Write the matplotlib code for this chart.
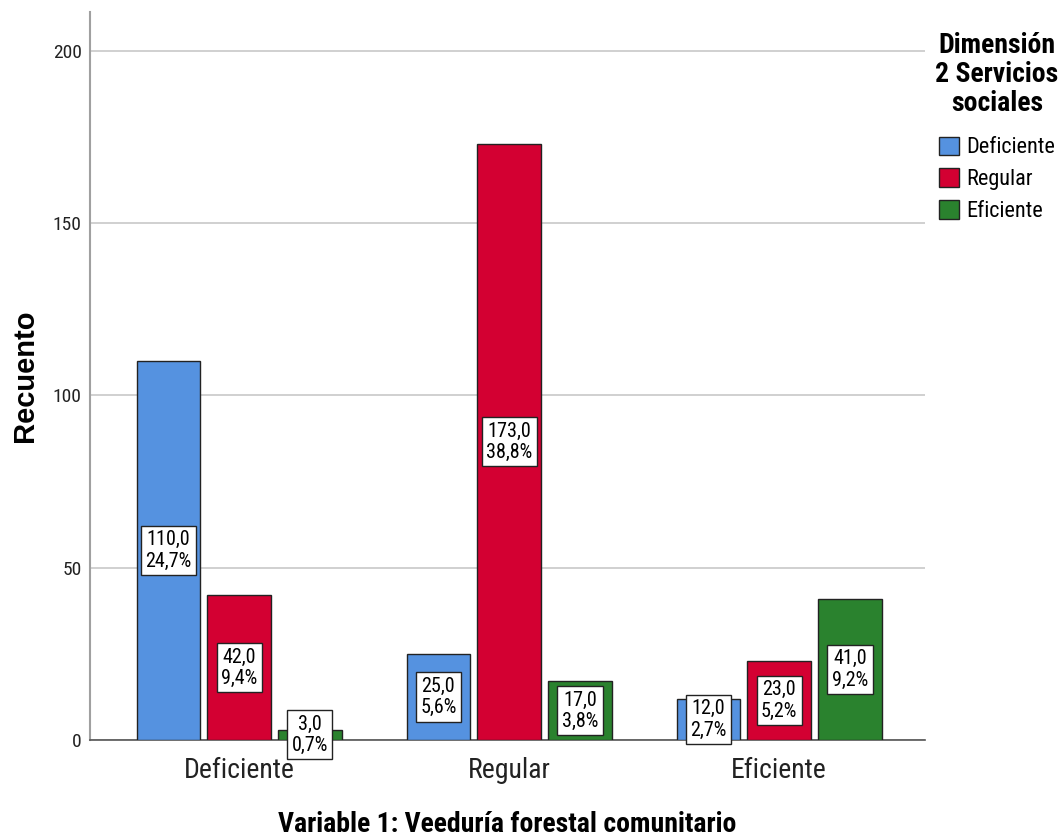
import numpy as np
import matplotlib.pyplot as plt
from matplotlib import font_manager

# buscar una fuente estrecha (parecida a Arial Narrow)
lista = font_manager.fontManager.ttflist
names = set(f.name for f in lista)
fam = None
stretch = 'normal'
for c in ['Liberation Sans Narrow', 'Arial Narrow', 'Roboto Condensed', 'Open Sans Condensed']:
    if c in names:
        fam = c
        break
if fam is None:
    for c in ['Roboto', 'Noto Sans', 'Open Sans', 'Liberation Sans', 'DejaVu Sans', 'Inter', 'Lato']:
        cond = [f for f in lista if f.name == c and str(f.stretch) in
                ('condensed', 'semi-condensed', 'extra-condensed', '300', '400', '200')]
        if cond:
            fam = c
            stretch = 'condensed'
            break
k = 1.0
if fam is None:
    fam = 'Liberation Sans'
    k = 0.86
plt.rcParams['font.family'] = [fam, 'DejaVu Sans']
plt.rcParams['font.stretch'] = stretch

categorias = ['Deficiente', 'Regular', 'Eficiente']
series = ['Deficiente', 'Regular', 'Eficiente']
deficiente = [110, 25, 12]
regular = [42, 173, 23]
eficiente = [3, 17, 41]
colores = ['#5592E0', '#D30032', '#2A822E']

valores = [deficiente, regular, eficiente]
total = float(np.sum(valores))

fig = plt.figure(figsize=(10.64, 8.4), dpi=100)
ax = fig.add_axes([0.0846, 0.119, 0.7848, 0.867])

x = np.arange(len(categorias))
ancho = 0.235
paso = 0.262

for i in range(len(series)):
    pos = x + (i - 1) * paso
    ax.bar(pos, valores[i], ancho, color=colores[i], edgecolor='#222222',
           linewidth=1.0, label=series[i], zorder=3)
    for p, v in zip(pos, valores[i]):
        txt = ('%.1f' % v).replace('.', ',') + '\n' + ('%.1f%%' % (v / total * 100)).replace('.', ',')
        ax.text(p, v / 2.0, txt, ha='center', va='center', fontsize=14.5 * k,
                linespacing=1.15, zorder=5,
                bbox=dict(boxstyle='square,pad=0.22', facecolor='white',
                          edgecolor='#222222', linewidth=1.0))

ax.set_xlim(-0.552, 2.54)
ax.set_ylim(0, 211.3)
ax.set_yticks([0, 50, 100, 150, 200])
ax.set_xticks(x)
ax.set_xticklabels(categorias, fontsize=20 * k)
ax.tick_params(axis='y', labelsize=14 * k, length=0, pad=6, labelcolor='#222222')
ax.tick_params(axis='x', length=0, pad=12, labelcolor='#222222')
ax.yaxis.grid(True, color='#C8C8C8', linewidth=1.2, zorder=0)
ax.set_axisbelow(True)

for s in ['top', 'right']:
    ax.spines[s].set_visible(False)
ax.spines['left'].set_color('#A0A0A0')
ax.spines['left'].set_linewidth(1.5)
ax.spines['bottom'].set_color('#555555')
ax.spines['bottom'].set_linewidth(1.2)

ax.set_ylabel('Recuento', fontsize=21, fontweight='bold',
              family=['Liberation Sans', 'DejaVu Sans'], fontstretch='normal', labelpad=10)
ax.set_xlabel('Variable 1: Veeduría forestal comunitario', fontsize=20 * k,
              fontweight='bold', labelpad=20)

leg = ax.legend(title='Dimensión\n2 Servicios\nsociales', loc='upper center',
                bbox_to_anchor=(997 / 1064.0, 0.962), bbox_transform=fig.transFigure,
                frameon=False, fontsize=16 * k, handlelength=0.9, handleheight=0.9,
                handletextpad=0.3, labelspacing=0.45, borderaxespad=0, borderpad=0)
leg.get_title().set_fontsize(20 * k)
leg.get_title().set_fontweight('bold')
leg.get_title().set_multialignment('center')
leg.get_title().set_linespacing(1.1)
leg._legend_box.align = 'center'
leg._legend_box.sep = 14

fig.savefig('out.png', dpi=100)
